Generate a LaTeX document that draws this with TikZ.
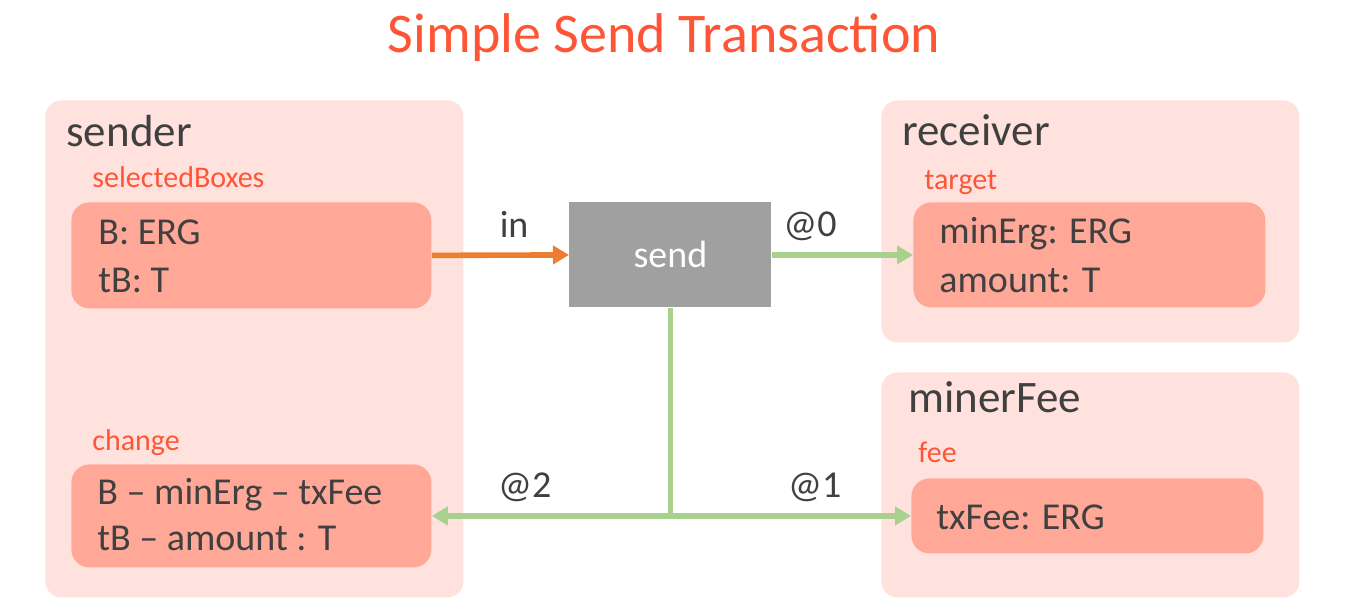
\documentclass[tikz,border=0pt]{standalone}
\usepackage{fontspec}
\setmainfont{Carlito}
\usepackage{tikz}
\usetikzlibrary{arrows.meta,positioning}

\definecolor{outerpink}{HTML}{FFE2DD}
\definecolor{innersalmon}{HTML}{FFA898}
\definecolor{labelred}{HTML}{FF5537}
\definecolor{textgray}{HTML}{404040}
\definecolor{sendgray}{HTML}{A0A0A0}
\definecolor{arroworange}{HTML}{ED7D31}
\definecolor{arrowgreen}{HTML}{A9D18E}

\begin{document}
\begin{tikzpicture}[x=0.5pt, y=-0.5pt, >={Triangle[length=8pt, width=9pt]},
    outer/.style={fill=outerpink, rounded corners=8pt, anchor=north west, inner sep=0pt},
    inner/.style={fill=innersalmon, rounded corners=9pt, anchor=north west, inner sep=0pt},
    boxtitle/.style={anchor=base west, text=textgray, inner sep=0pt, font=\fontsize{22.5}{27}\selectfont},
    boxlabel/.style={anchor=base west, text=labelred, inner sep=0pt, font=\fontsize{15}{18}\selectfont},
    field/.style={anchor=base west, text=textgray, inner sep=0pt, font=\fontsize{19}{23}\selectfont},
    flow/.style={->, line width=2.8pt},
    flowlabel/.style={anchor=base, yshift=9pt, text=textgray, inner sep=0pt, font=\fontsize{19}{23}\selectfont}]

    \useasboundingbox (0,0) rectangle (1348,606);

    % Title
    \node[anchor=base, text=labelred, font=\fontsize{28}{34}\selectfont] (title) at (664,52) {Simple Send Transaction};

    % Outer boxes
    \node[outer, minimum width=209pt, minimum height=248.5pt] (sender) at (45,100) {};
    \node[outer, minimum width=209pt, minimum height=121pt] (receiver) at (881,100) {};
    \node[outer, minimum width=209pt, minimum height=112.5pt] (minerFee) at (881,372) {};

    \node[boxtitle] (senderTitle) at (66,146) {sender};
    \node[boxtitle] (receiverTitle) at (902,145) {receiver};
    \node[boxtitle] (minerFeeTitle) at (908,412) {minerFee};

    % Inner boxes
    \node[inner, minimum width=180pt, minimum height=53pt] (selBox) at (71,202) {};
    \node[inner, minimum width=180pt, minimum height=51.5pt] (changeBox) at (71,464) {};
    \node[inner, minimum width=176pt, minimum height=52.5pt] (targetBox) at (913,202) {};
    \node[inner, minimum width=176pt, minimum height=37.5pt] (feeBox) at (911,478) {};

    \node[boxlabel] (selLabel) at (92,187) {selectedBoxes};
    \node[boxlabel] (changeLabel) at (92,450) {change};
    \node[boxlabel] (targetLabel) at (924,189) {target};
    \node[boxlabel] (feeLabel) at (918,462) {fee};

    % Fields
    \node[field] (selB) at (98,244) {B: ERG};
    \node[field] (selT) at (98,292) {tB: T};
    \node[field] (changeB) at (97,504) {B -- minErg -- txFee};
    \node[field] (changeT) at (97,550) {tB -- amount : T};
    \node[field] (targetB) at (939,243) {minErg: ERG};
    \node[field] (targetT) at (939,292) {amount: T};
    \node[field] (feeB) at (936,529) {txFee: ERG};

    % Transaction
    \node[fill=sendgray, anchor=north west, minimum width=101pt, minimum height=52.5pt, text=white,
          font=\fontsize{19}{23}\selectfont] (send) at (569,202) {send};

    % Flows
    \draw[flow, arroworange] (selBox.east) -- node[flowlabel, pos=.6] (inLbl) {in} (send.west);
    \draw[flow, arrowgreen] (send.east) -- node[flowlabel, pos=.27] (outZero) {@0} (targetBox.west);
    \coordinate (split) at (send.south |- changeBox.east);
    \draw[line width=2.8pt, arrowgreen] (send.south) -- (split);
    \draw[flow, arrowgreen] (split) -- node[flowlabel, pos=.61] (outTwo) {@2} (changeBox.east);
    \draw[flow, arrowgreen] (split) -- node[flowlabel, pos=.6] (outOne) {@1} (feeBox.west);
\end{tikzpicture}
\end{document}
